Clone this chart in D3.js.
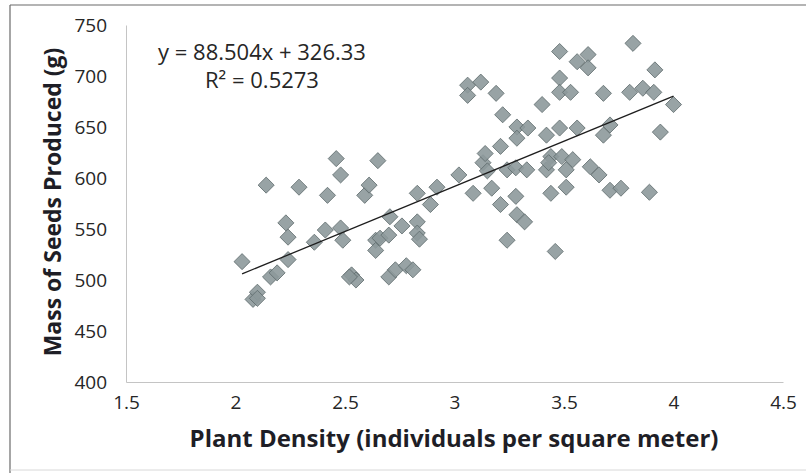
<!DOCTYPE html>
<html>
<head>
<meta charset="utf-8">
<script src="https://cdn.jsdelivr.net/npm/d3@7"></script>
<style>
  body { margin: 0; background: #fff; }
  text { font-family: "Open Sans", sans-serif; }
</style>
</head>
<body>
<svg id="chart" width="806" height="473"></svg>
<script>
// plant density (individuals per m2)
var density = [2.03, 2.08, 2.10, 2.16, 2.19, 2.14, 2.23, 2.24, 2.24, 2.29,
  2.36, 2.41, 2.42, 2.46, 2.48, 2.48, 2.49, 2.53, 2.55, 2.59,
  2.61, 2.64, 2.65, 2.64, 2.66, 2.70, 2.705, 2.70, 2.73, 2.76,
  2.78, 2.81, 2.83, 2.83, 2.83, 2.84, 2.89, 2.92, 3.02, 3.06,
  3.12, 3.06, 3.085, 3.13, 3.14, 3.15, 3.17, 3.19, 3.21, 3.21,
  3.22, 3.24, 3.24, 3.28, 3.28, 3.285, 3.285, 3.335, 3.33, 3.285,
  3.32, 3.40, 3.42, 3.44, 3.49, 3.54, 3.42, 3.51, 3.43, 3.44,
  3.51, 3.46, 3.48, 3.48, 3.48, 3.53, 3.48, 3.56, 3.56, 3.61,
  3.61, 3.62, 3.66, 3.68, 3.71, 3.68, 3.71, 3.76, 3.815, 3.80,
  3.86, 3.91, 3.915, 3.94, 3.89, 4.00, 2.10, 2.52];
// mass of seeds (g)
var seedMass = [518, 481, 488, 503, 507, 593, 556, 542, 520, 591,
  537, 549, 583, 619, 603, 551, 539, 505, 500, 583,
  593, 539, 617, 529, 541, 544, 562, 503, 510, 553,
  514, 510, 585, 557, 546, 540, 574, 591, 603, 691,
  694, 681, 585, 615, 624, 607, 590, 683, 574, 631,
  662, 608, 539, 610, 582, 650, 639, 649, 608, 564,
  557, 672, 642, 621, 621, 618, 608, 608, 615, 585,
  591, 528, 724, 698, 684, 684, 649, 649, 714, 721,
  708, 611, 603, 683, 652, 642, 588, 590, 732, 684,
  688, 684, 706, 645, 586, 672, 482, 503];

var xTicks = [1.5, 2, 2.5, 3, 3.5, 4, 4.5];
var yTicks = [400, 450, 500, 550, 600, 650, 700, 750];

// linear trendline as printed on the chart
var slope = 88.504, intercept = 326.33, rSquared = "0.5273";

var svg = d3.select("#chart");

var x = d3.scaleLinear().domain([1.5, 4.5]).range([126, 783]);
var y = d3.scaleLinear().domain([400, 750]).range([382, 25]);

// outer frame (scanned, only top/left clear)
svg.append("line").attr("x1", 10).attr("x2", 806).attr("y1", 5).attr("y2", 5)
  .attr("stroke", "#6a6a6a").attr("stroke-width", 1.2);
svg.append("line").attr("x1", 10).attr("x2", 10).attr("y1", 5).attr("y2", 473)
  .attr("stroke", "#6a6a6a").attr("stroke-width", 1.2);
svg.append("line").attr("x1", 10).attr("x2", 806).attr("y1", 470).attr("y2", 470)
  .attr("stroke", "#d8d8d8").attr("stroke-width", 1);

// axes
var xAxis = svg.append("g").attr("transform", "translate(0," + y(400) + ")")
  .call(d3.axisBottom(x).tickValues(xTicks).tickSize(0).tickPadding(14).tickFormat(d3.format("")));
var yAxis = svg.append("g").attr("transform", "translate(" + x(1.5) + ",0)")
  .call(d3.axisLeft(y).tickValues(yTicks).tickSize(0).tickPadding(19));

[xAxis, yAxis].forEach(function(g){
  g.select(".domain").attr("stroke", "#c4c4c4").attr("stroke-width", 1);
  g.selectAll("text").attr("font-family", "Open Sans, sans-serif")
    .attr("font-size", 19).attr("fill", "#262626");
});

// points
var pts = density.map(function(d, i){ return [d, seedMass[i]]; });
svg.append("g").selectAll("path").data(pts).enter().append("path")
  .attr("transform", function(d){ return "translate(" + x(d[0]) + "," + y(d[1]) + ")"; })
  .attr("d", d3.symbol().type(d3.symbolDiamond2).size(165))
  .attr("fill", "#8d999b").attr("fill-opacity", 0.9)
  .attr("stroke", "#5d696b").attr("stroke-width", 0.8);

// trendline over data range
var ext = d3.extent(density);
svg.append("line")
  .attr("x1", x(ext[0])).attr("y1", y(slope * ext[0] + intercept))
  .attr("x2", x(ext[1])).attr("y2", y(slope * ext[1] + intercept))
  .attr("stroke", "#1e1e1e").attr("stroke-width", 1.3);

// equation
svg.append("text").attr("x", 262).attr("y", 60).attr("text-anchor", "middle")
  .attr("font-size", 22).attr("fill", "#262626")
  .text("y = " + slope + "x + " + intercept);
svg.append("text").attr("x", 262).attr("y", 88).attr("text-anchor", "middle")
  .attr("font-size", 22).attr("fill", "#262626")
  .text("R² = " + rSquared);

// axis titles
svg.append("text").attr("x", 454).attr("y", 447).attr("text-anchor", "middle")
  .attr("font-size", 24).attr("font-weight", "bold").attr("fill", "#1e1e26")
  .text("Plant Density (individuals per square meter)");
svg.append("text").attr("transform", "translate(61,202) rotate(-90)")
  .attr("text-anchor", "middle")
  .attr("font-size", 23).attr("font-weight", "bold").attr("fill", "#1e1e26")
  .text("Mass of Seeds Produced (g)");
</script>
</body>
</html>
